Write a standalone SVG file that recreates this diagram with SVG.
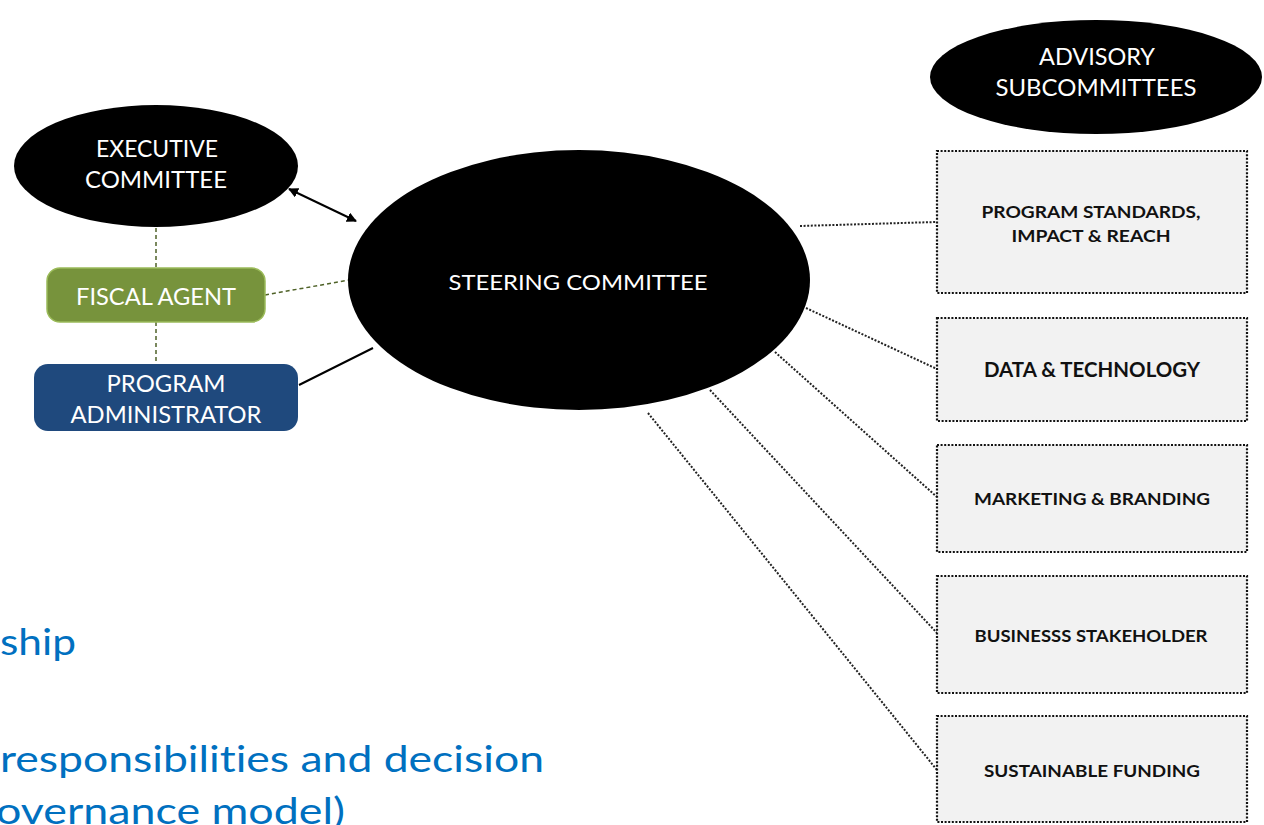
<svg xmlns="http://www.w3.org/2000/svg" width="1264" height="825" viewBox="0 0 1264 825">
<style>
text{font-variant-ligatures:none}
.wt{font-family:Lato,"Open Sans","Liberation Sans",sans-serif;fill:#fff;text-anchor:middle;dominant-baseline:central}
.bt{font-family:Lato,"Open Sans","Liberation Sans",sans-serif;fill:#111;text-anchor:middle;dominant-baseline:central;font-weight:bold}
.box{fill:#f2f2f2;stroke:#111;stroke-width:2.2;stroke-dasharray:2 1.6}
.dot{stroke:#222;stroke-width:2;stroke-dasharray:2 1.6;fill:none}
.olive{stroke:#4f6228;stroke-width:1.5;stroke-dasharray:4 3;fill:none}
.blue{font-family:Lato,"Open Sans","Liberation Sans",sans-serif;fill:#0070c0;font-size:37px}
</style>
<defs>
<marker id="ah" viewBox="0 0 10 10" refX="9" refY="5" markerWidth="5" markerHeight="5" orient="auto-start-reverse">
<path d="M0,0 L10,5 L0,10 z" fill="#000"/>
</marker>
</defs>
<rect width="1264" height="825" fill="#fff"/>
<g id="connectors">
<line class="olive" x1="156" y1="228" x2="156" y2="268"/>
<line class="olive" x1="156" y1="322" x2="156" y2="364"/>
<line class="olive" x1="265" y1="295" x2="349" y2="280"/>
<line x1="299" y1="385" x2="373" y2="348" stroke="#000" stroke-width="2"/>
<line x1="289" y1="189" x2="356" y2="221" stroke="#000" stroke-width="2" marker-start="url(#ah)" marker-end="url(#ah)"/>
<line class="dot" x1="800" y1="226" x2="936" y2="222"/>
<line class="dot" x1="806" y1="308" x2="937" y2="369"/>
<line class="dot" x1="775" y1="352" x2="937" y2="497"/>
<line class="dot" x1="710" y1="390" x2="937" y2="633"/>
<line class="dot" x1="648" y1="413" x2="937" y2="770"/>
</g>
<g id="executive">
<ellipse cx="156" cy="166" rx="142" ry="61" fill="#000"/>
<text class="wt" x="157" y="147" font-size="24" textLength="122" lengthAdjust="spacingAndGlyphs">EXECUTIVE</text>
<text class="wt" x="156" y="178" font-size="24" textLength="142" lengthAdjust="spacingAndGlyphs">COMMITTEE</text>
</g>
<g id="fiscal">
<rect x="47" y="268" width="218" height="54" rx="13" fill="#77933c" stroke="#9bbb59" stroke-width="1.5"/>
<text class="wt" x="156" y="296" font-size="23" textLength="160" lengthAdjust="spacingAndGlyphs">FISCAL AGENT</text>
</g>
<g id="admin">
<rect x="34" y="364" width="264" height="67" rx="14" fill="#1f497d"/>
<text class="wt" x="166" y="383" font-size="23" textLength="119" lengthAdjust="spacingAndGlyphs">PROGRAM</text>
<text class="wt" x="166" y="414" font-size="23" textLength="191" lengthAdjust="spacingAndGlyphs">ADMINISTRATOR</text>
</g>
<g id="steering">
<ellipse cx="579" cy="280" rx="231" ry="130" fill="#000"/>
<text class="wt" x="578" y="281" font-size="22" textLength="259" lengthAdjust="spacingAndGlyphs">STEERING COMMITTEE</text>
</g>
<g id="advisory">
<ellipse cx="1096" cy="77" rx="166" ry="57" fill="#000"/>
<text class="wt" x="1097" y="56" font-size="23" textLength="116" lengthAdjust="spacingAndGlyphs">ADVISORY</text>
<text class="wt" x="1096" y="87" font-size="23" textLength="201" lengthAdjust="spacingAndGlyphs">SUBCOMMITTEES</text>
</g>
<g id="sub1">
<rect class="box" x="937" y="151" width="310" height="142"/>
<text class="bt" x="1091" y="211" font-size="17" textLength="219" lengthAdjust="spacingAndGlyphs">PROGRAM STANDARDS,</text>
<text class="bt" x="1091" y="235" font-size="17" textLength="159" lengthAdjust="spacingAndGlyphs">IMPACT &amp; REACH</text>
</g>
<g id="sub2">
<rect class="box" x="937" y="318" width="310" height="103"/>
<text class="bt" x="1092" y="369" font-size="20" textLength="216" lengthAdjust="spacingAndGlyphs">DATA &amp; TECHNOLOGY</text>
</g>
<g id="sub3">
<rect class="box" x="937" y="445" width="310" height="107"/>
<text class="bt" x="1092" y="498" font-size="17" textLength="236" lengthAdjust="spacingAndGlyphs">MARKETING &amp; BRANDING</text>
</g>
<g id="sub4">
<rect class="box" x="937" y="576" width="310" height="117"/>
<text class="bt" x="1091" y="635" font-size="17" textLength="233" lengthAdjust="spacingAndGlyphs">BUSINESSS  STAKEHOLDER</text>
</g>
<g id="sub5">
<rect class="box" x="937" y="716" width="310" height="106"/>
<text class="bt" x="1092" y="770" font-size="17" textLength="216" lengthAdjust="spacingAndGlyphs">SUSTAINABLE  FUNDING</text>
</g>
<g id="bodytext">
<text class="blue" x="0" y="655" textLength="76" lengthAdjust="spacingAndGlyphs">ship</text>
<text class="blue" x="0" y="772" textLength="544" lengthAdjust="spacingAndGlyphs">responsibilities and decision</text>
<text class="blue" x="-4" y="824" textLength="349" lengthAdjust="spacingAndGlyphs">overnance model)</text>
</g>
</svg>
